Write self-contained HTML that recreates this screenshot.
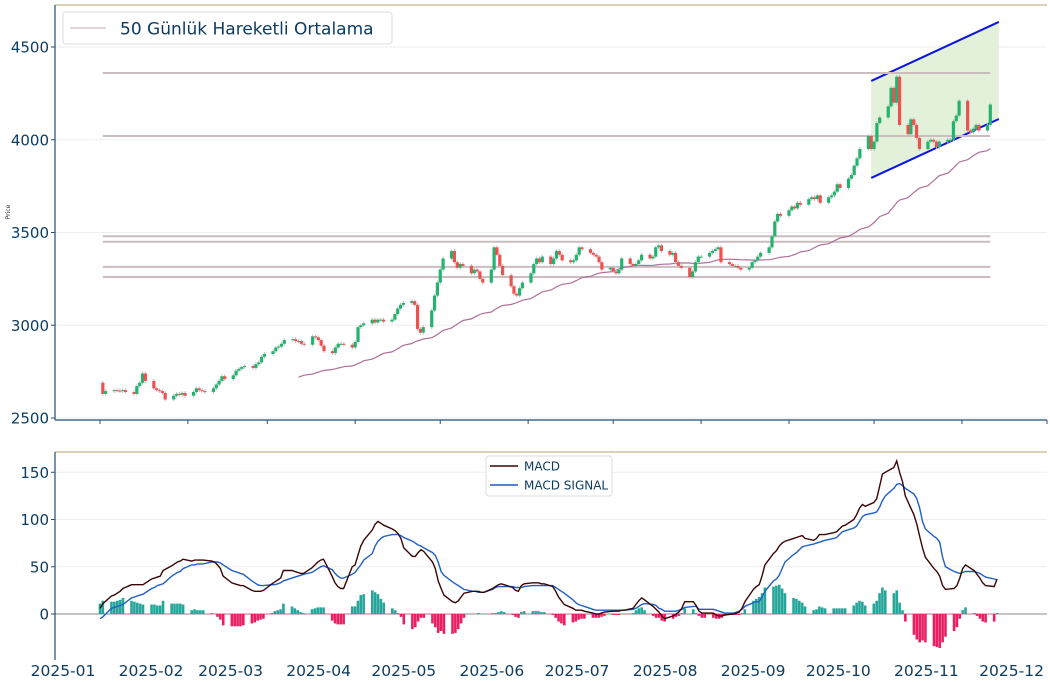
<!DOCTYPE html>
<html><head><meta charset="utf-8">
<style>
body{margin:0;background:#fff;}
svg{display:block;font-family:"DejaVu Sans","Liberation Sans",sans-serif;}
</style></head>
<body>
<svg id="c" width="1050" height="682" viewBox="0 0 1050 682"></svg>
<script>
const closeJan=[2630,2645,2650,2648,2645,2650,2640,2630,2672,2690,2740,2700,2660,2650,2645,2635,2600,2620,2630,2625,2635,2620];
const closeFeb=[2640,2660,2650,2645,2640,2660,2680,2700,2725,2710,2730,2755,2765,2775,2780,2770,2790,2800,2830,2845];
const closeMar=[2860,2880,2885,2900,2920,2925,2915,2915,2900,2895,2940,2935,2920,2890,2860,2850,2880,2900,2900,2895,2880];
const closeApr=[2910,2990,3000,3010,3030,3015,3030,3030,3020,3030,3060,3090,3110,3120,3130,3110,2980,2960,2990,3080,3160,3230];
const closeMay=[3300,3360,3400,3340,3310,3330,3320,3280,3300,3290,3250,3230,3300,3420,3380,3320,3270,3210,3170,3160,3200,3230];
const closeJun=[3280,3330,3360,3340,3370,3330,3360,3400,3380,3350,3340,3350,3380,3420,3410,3390,3380,3370,3340,3300,3310];
const closeJul=[3290,3280,3300,3360,3330,3320,3330,3350,3380,3360,3370,3420,3430,3400,3380,3390,3340,3320,3310,3260,3290,3340,3370];
const closeAug=[3370,3390,3400,3410,3420,3340,3330,3320,3320,3310,3300,3310,3340,3350,3370,3390,3420,3480,3560,3600,3590];
const closeSep=[3620,3640,3630,3660,3650,3680,3690,3680,3700,3660,3690,3700,3720,3760,3740,3790,3810,3860,3900,3950,4020,3950];
const closeOct=[3990,4090,4120,4180,4280,4200,4340,4080,4030,4110,4080,4010,3950,3990,4000,3990,3960,3990,4000,4000,4100,4130,4210];
const closeNov=[4050,4040,4060,4080,4050,4080,4190];
const firstOpen=2690;

const macdJan=[6,11,19,20,22,24,27,31,31,31,31,31,37,38,39,40,46,51,53,55,56,58];
const macdFeb=[56,57,57,57,57,56,55,52,48,40,33,32,31,30,30,25,24,24,24,25];
const macdMar=[32,34,36,38,46,46,45,44,43,43,49,52,55,57,58,40,33,29,27,27,50];
const macdApr=[52,62,72,78,89,95,98,96,94,90,88,85,80,70,61,61,65,68,66,55,48,35];
const macdMay=[27,20,13,12,14,18,22,24,24,24,23,23,27,29,31,32,31,28,25,24,30,32];
const macdJun=[33,33,33,32,32,29,24,18,14,10,6,4,4,4,3,1,0,0,1,2,3];
const macdJul=[3,3,4,4,6,10,14,17,15,8,5,2,-2,-5,-2,0,2,6,13,13,9,3,1];
const macdAug=[1,1,-1,-2,-2,-1,0,1,2,6,13,26,29,31,40,52,64,67,72,75,77];
const macdSep=[80,81,82,83,80,78,80,84,84,84,86,87,90,93,94,100,105,112,116,114,118,122];
const macdOct=[135,148,150,155,162,150,140,125,105,95,82,70,60,48,45,40,30,26,27,30,38,48,52];
const macdNov=[46,42,38,33,30,29,37];

const sigJan=[-5,-3,6,7,8,9,10,17,18,19,20,21,27,28,30,31,32,40,42,44,45,48];
const sigFeb=[52,52,53,53,53,55,55,55,54,52,46,45,44,43,42,35,33,31,30,30];
const sigMar=[31,31,32,33,35,38,39,40,41,42,44,46,48,50,51,47,43,40,38,38,42];
const sigApr=[44,48,52,57,64,72,77,80,82,84,84,84,83,81,77,75,73,72,70,65,62,55];
const sigMay=[45,41,34,32,30,28,26,24,24,23,23,23,26,28,29,29,29,29,28,28,28,29];
const sigJun=[30,30,30,30,30,30,28,26,24,22,15,12,10,9,8,5,4,4,4,4,4];
const sigJul=[4,4,4,4,5,6,8,10,11,10,9,6,5,3,3,3,4,5,7,8,8,5,5];
const sigAug=[5,5,4,3,2,1,1,2,3,5,8,12,13,13,18,24,35,37,41,48,55];
const sigSep=[63,65,68,71,72,74,75,76,77,78,80,81,84,87,88,91,93,98,103,105,107,108];
const sigOct=[113,120,125,133,137,138,136,133,127,122,112,98,90,82,80,76,60,50,45,44,43,44,45];
const sigNov=[45,44,43,41,39,37,36];

const levels=[4360,4020,3480,3450,3315,3260];
const channelUpper=[4317,4635];
const channelLower=[3794,4112];
const channelDates=["2025-09-30","2025-11-14"];
const yTicksTop=[2500,3000,3500,4000,4500];
const yTicksBot=[0,50,100,150];
const xTickLabels=["2025-01","2025-02","2025-03","2025-04","2025-05","2025-06","2025-07","2025-08","2025-09","2025-10","2025-11","2025-12"];

const closes=[].concat(closeJan,closeFeb,closeMar,closeApr,closeMay,closeJun,closeJul,closeAug,closeSep,closeOct,closeNov);
const macd=[].concat(macdJan,macdFeb,macdMar,macdApr,macdMay,macdJun,macdJul,macdAug,macdSep,macdOct,macdNov);
const signal=[].concat(sigJan,sigFeb,sigMar,sigApr,sigMay,sigJun,sigJul,sigAug,sigSep,sigOct,sigNov);
function weekdays(start,n){const out=[];let d=new Date(start);while(out.length<n){const w=d.getUTCDay();if(w!==0&&w!==6)out.push(new Date(d));d=new Date(d.getTime()+86400000);}return out;}
const dates=weekdays(Date.UTC(2025,0,2),closes.length);
const t0=Date.UTC(2025,0,1),t1=Date.UTC(2025,11,1),tB=Date.UTC(2025,0,2);
function xS(d){return 100+(d-t0)/(t1-t0)*947;}
function xM(d){return 100+(d-tB)/86400000*2.866;}
function xL(d){return 63+(d-t0)/86400000*2.84;}
function yT(v){return 418-(v-2500)*0.1855;}
function yB(v){return 614-v*0.945;}
const NS="http://www.w3.org/2000/svg";
const svg=document.getElementById('c');
function el(tag,attrs,parent){const e=document.createElementNS(NS,tag);for(const k in attrs)e.setAttribute(k,attrs[k]);(parent||svg).appendChild(e);return e;}

for(const v of yTicksTop){const g=el('line',{x1:55,x2:1047,y1:yT(v),y2:yT(v),stroke:'#eeeeee','stroke-width':1});

}
for(const v of yTicksBot){const g=el('line',{x1:55,x2:1047,y1:yB(v),y2:yB(v),stroke:v===0?'#888':'#eeeeee','stroke-width':1});

}

{const xa=xS(Date.parse(channelDates[0])),xb=xS(Date.parse(channelDates[1]));
const p=el('polygon',{points:`${xa},${yT(channelUpper[0])} ${xb},${yT(channelUpper[1])} ${xb},${yT(channelLower[1])} ${xa},${yT(channelLower[0])}`,fill:'#e3f0da'});


const u=el('line',{x1:xa,y1:yT(channelUpper[0]),x2:xb,y2:yT(channelUpper[1]),stroke:'#0a14e6','stroke-width':2});


const l=el('line',{x1:xa,y1:yT(channelLower[0]),x2:xb,y2:yT(channelLower[1]),stroke:'#0a14e6','stroke-width':2});

}

const xFirst=xS(dates[0].getTime()),xLast=xS(dates[dates.length-1].getTime());
for(const v of levels){const l=el('line',{x1:xFirst,x2:xLast,y1:yT(v),y2:yT(v),stroke:'#cbbcbf','stroke-width':2});

}

{let pts=[];for(let i=49;i<closes.length;i++){let s=0;for(let j=i-49;j<=i;j++)s+=closes[j];pts.push(xS(dates[i].getTime()).toFixed(1)+','+yT(s/50).toFixed(1));}
const p=el('polyline',{points:pts.join(' '),fill:'none',stroke:'#b0709a','stroke-width':1.2});

}

for(let i=0;i<closes.length;i++){const o=i===0?firstOpen:closes[i-1],c=closes[i];const x=xS(dates[i].getTime());
const up=c>=o;const hi=Math.max(o,c)+10,lo=Math.min(o,c)-10;
const w=el('line',{x1:x,x2:x,y1:yT(hi),y2:yT(lo),stroke:'#bbbbbb','stroke-width':1});


const top=yT(Math.max(o,c)),h=Math.max(1,yT(Math.min(o,c))-top);
const r=el('rect',{x:x-1.6,y:top,width:3.2,height:h,fill:up?'#22b36f':'#ef5050'});

}

for(let i=0;i<macd.length;i++){const h=macd[i]-signal[i];const x=xM(dates[i].getTime());
const y0=yB(0),y1=yB(h);
const r=el('rect',{x:x-1.3,y:Math.min(y0,y1),width:2.6,height:Math.abs(y1-y0),fill:h>=0?'#26a69a':'#e91e63'});

}
{const pm=macd.map((v,i)=>xM(dates[i].getTime()).toFixed(1)+','+yB(v).toFixed(1));
const ps=signal.map((v,i)=>xM(dates[i].getTime()).toFixed(1)+','+yB(v).toFixed(1));
const a=el('polyline',{points:ps.join(' '),fill:'none',stroke:'#1f5fc4','stroke-width':1.4});


const b=el('polyline',{points:pm.join(' '),fill:'none',stroke:'#3a0505','stroke-width':1.4});

}

const sp=[[55,5,1047,5,'#c8b48c'],[55,5,55,420,'#1f4e79'],[55,420,1047,420,'#1f4e79'],[55,452,1047,452,'#c8b48c'],[55,452,55,660,'#1f4e79']];
for(const s of sp){const l=el('line',{x1:s[0],y1:s[1],x2:s[2],y2:s[3],stroke:s[4],'stroke-width':1.2});

}
for(const v of yTicksTop){const t=el('text',{x:49,y:yT(v)+5.5,'text-anchor':'end','font-size':15,fill:'#0d3c61'});t.textContent=v;


el('line',{x1:51,x2:55,y1:yT(v),y2:yT(v),stroke:'#1f4e79'});}
for(const v of yTicksBot){const t=el('text',{x:49,y:yB(v)+5.5,'text-anchor':'end','font-size':15,fill:'#0d3c61'});t.textContent=v;


el('line',{x1:51,x2:55,y1:yB(v),y2:yB(v),stroke:'#1f4e79'});}
xTickLabels.forEach(s=>{const d=Date.parse(s+'-01');
el('line',{x1:xS(d),x2:xS(d),y1:420,y2:424,stroke:'#1f4e79'});
const t=el('text',{x:xL(d),y:676,'text-anchor':'middle','font-size':15.5,fill:'#0d3c61'});t.textContent=s;

});
{const t=el('text',{x:10,y:212,'font-size':6,fill:'#333',transform:'rotate(-90 10 212)','text-anchor':'middle'});t.textContent='Price';

}

{const g=el('g',{});
el('rect',{x:63,y:12,width:329,height:32,rx:3,fill:'#fff',stroke:'#dddddd'},g);
el('line',{x1:70,x2:106,y1:28,y2:28,stroke:'#c0aab8','stroke-width':1},g);
const t=el('text',{x:120,y:34.5,'font-size':17,fill:'#0d3c61'},g);t.textContent='50 Günlük Hareketli Ortalama';}
{const g=el('g',{});
el('rect',{x:486,y:456,width:126,height:40,rx:3,fill:'#fff',stroke:'#dddddd'},g);
el('line',{x1:490,x2:518,y1:466,y2:466,stroke:'#3a0505','stroke-width':1.4},g);
el('line',{x1:490,x2:518,y1:485,y2:485,stroke:'#1f5fc4','stroke-width':1.4},g);
const a=el('text',{x:524,y:470.5,'font-size':12,fill:'#0d3c61'},g);a.textContent='MACD';
const b=el('text',{x:524,y:489.5,'font-size':12,fill:'#0d3c61'},g);b.textContent='MACD SIGNAL';}
</script>
</body></html>
